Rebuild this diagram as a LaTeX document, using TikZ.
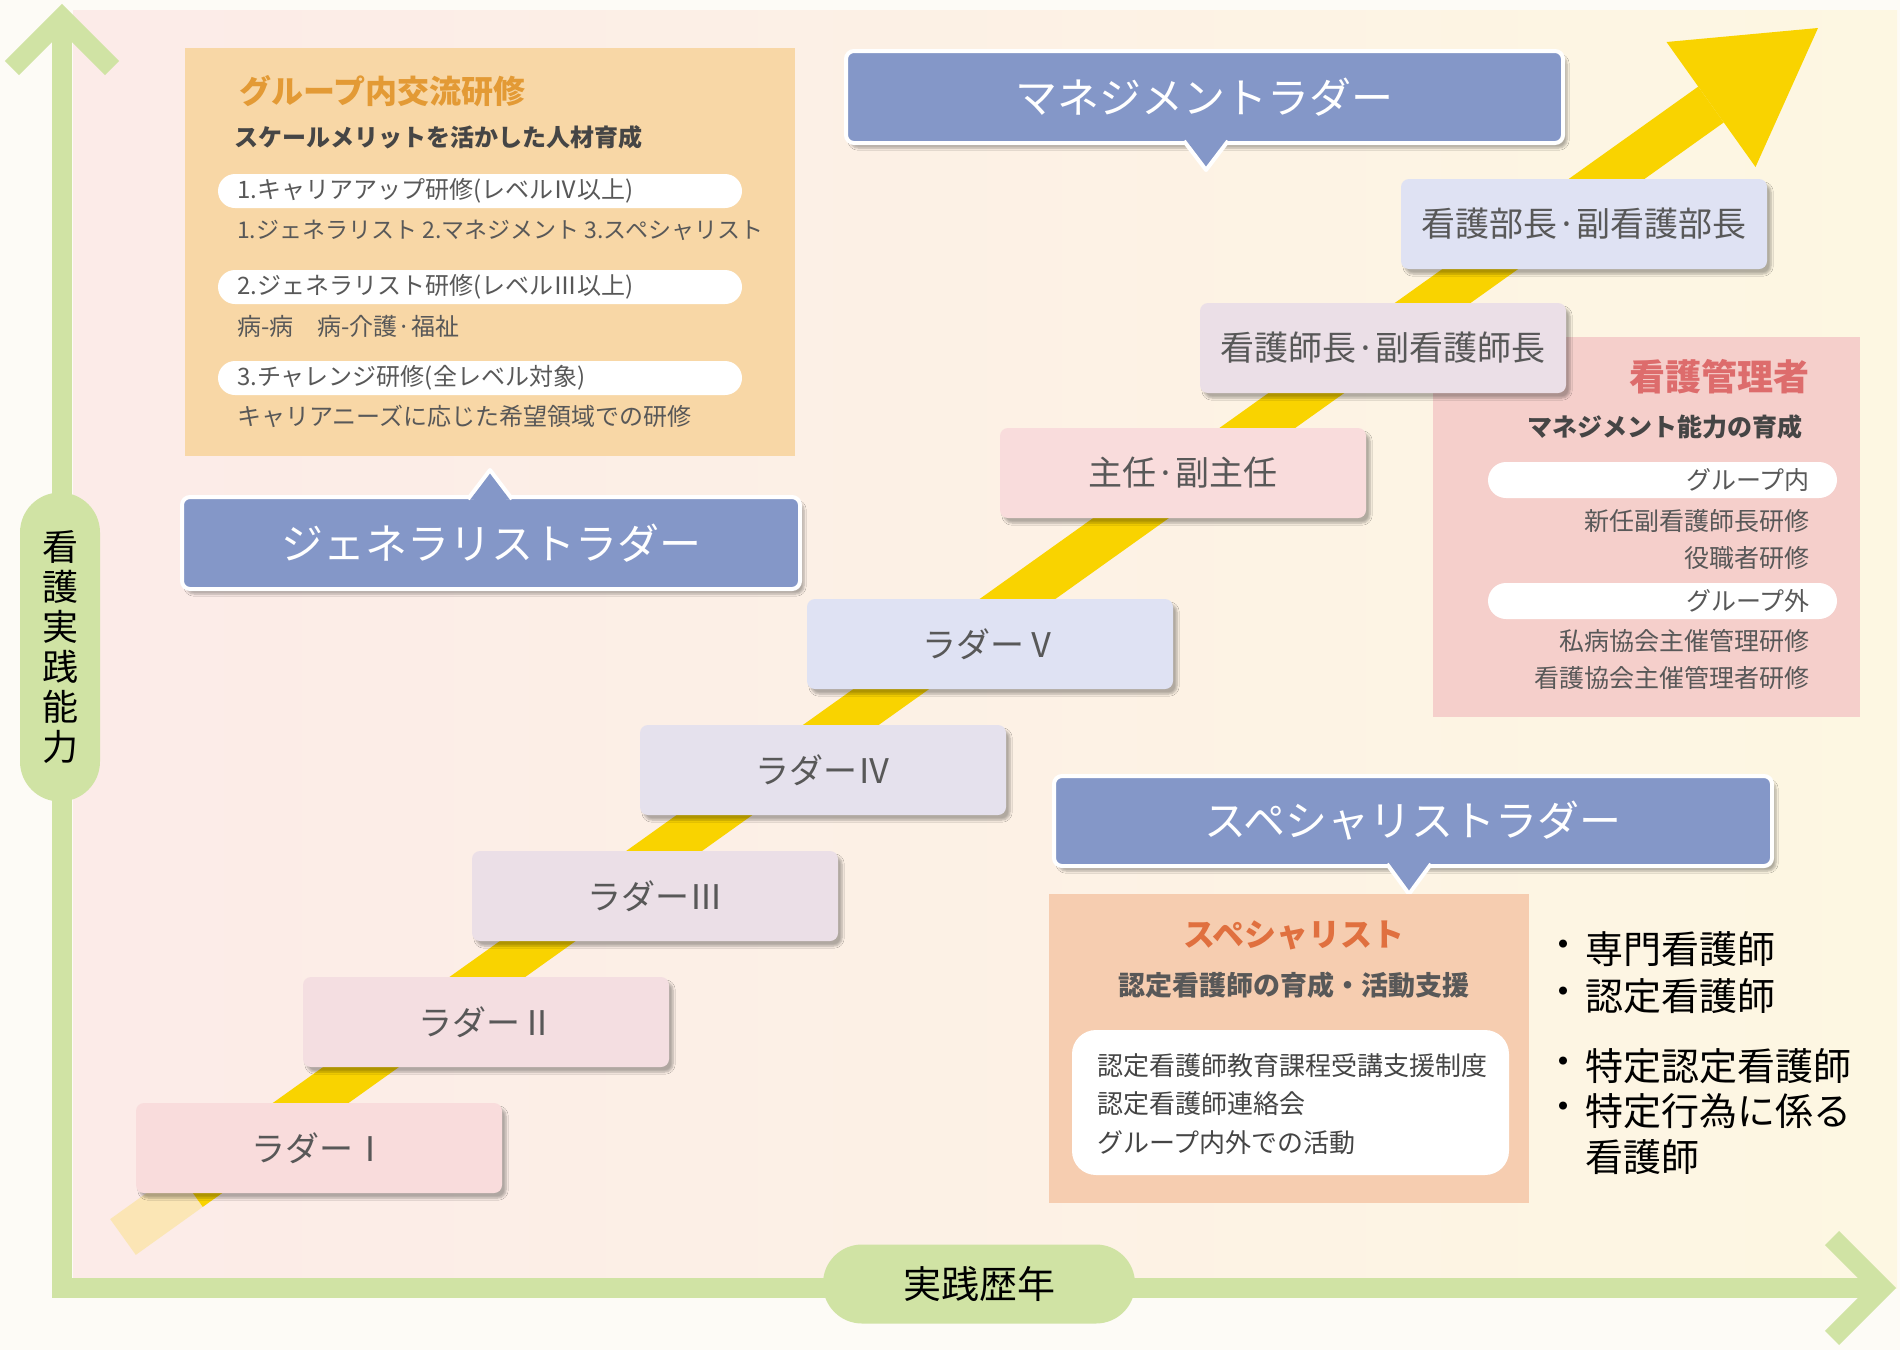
\documentclass[tikz,border=0pt]{standalone}
\usepackage{fontspec}
\setmainfont{Noto Sans CJK JP}
\usetikzlibrary{shadows.blur,calc}
\definecolor{outerbg}{HTML}{FDFBF6}
\definecolor{bgpink}{HTML}{FCEBE8}
\definecolor{bgcream}{HTML}{FDF7E2}
\definecolor{axisgreen}{HTML}{D0E3A4}
\definecolor{arrowyellow}{HTML}{F9D300}
\definecolor{orangebox}{HTML}{F8D7A6}
\definecolor{orangetitle}{HTML}{E39A35}
\definecolor{darktxt}{HTML}{454545}
\definecolor{graytxt}{HTML}{585858}
\definecolor{bannerblue}{HTML}{8497C8}
\definecolor{mgmtbox}{HTML}{F5CFCB}
\definecolor{redtitle}{HTML}{DD6C6C}
\definecolor{specbox}{HTML}{F6CDB0}
\definecolor{spectitle}{HTML}{E0703F}
\definecolor{lA}{HTML}{F9DCDC}
\definecolor{lB}{HTML}{F4DEE1}
\definecolor{lC}{HTML}{EBDFE7}
\definecolor{lD}{HTML}{E5E1ED}
\definecolor{lE}{HTML}{DFE2F3}
\begin{document}
\begin{tikzpicture}[x=1pt,y=-1pt,
  ladderbox/.style={rectangle, rounded corners=8pt, minimum width=366pt, minimum height=90pt, inner sep=0pt,
    text=graytxt, font=\fontsize{34}{40}\selectfont,
    blur shadow={shadow xshift=4pt, shadow yshift=-5pt, shadow blur steps=6, shadow opacity=30}},
  banner/.style={rectangle, rounded corners=8pt, draw=white, line width=4pt, fill=bannerblue, inner sep=0pt,
    text=white, font=\fontsize{42}{48}\selectfont,
    blur shadow={shadow xshift=4pt, shadow yshift=-5pt, shadow blur steps=6, shadow opacity=30}},
  tipline/.style={draw=white, line width=4pt, fill=bannerblue, line join=round},
  pill/.style={rectangle, rounded corners=17pt, fill=white, inner sep=0pt},
  txt/.style={inner sep=0pt, text=graytxt},
  axisline/.style={draw=axisgreen, line width=20pt, line join=miter},
  axispill/.style={fill=axisgreen, inner sep=0pt, text=black}
]
\useasboundingbox (0,0) rectangle (1900,1350);
% background
\fill[outerbg] (0,0) rectangle (1900,1350);
\shade[left color=bgpink, right color=bgcream] (73,10) rectangle (1897,1288);

% axes
\coordinate (ytip) at (62,18);
\coordinate (origin) at (62,1288);
\coordinate (xtip) at (1882,1288);
\draw[axisline] (ytip) -- (origin) -- (xtip);
\draw[axisline] (12,68) -- (ytip) -- (112,68);
\draw[axisline] (1832,1238) -- (xtip) -- (1832,1338);

% yellow arrow
\coordinate (amid) at (1711,104.5);
\coordinate (atail) at (123,1237);
\coordinate (ain) at (190,1189);
\coordinate (atip) at (1818,28);
\coordinate (abarbL) at (1666.5,42);
\coordinate (abarbR) at (1755.5,167);
\draw[arrowyellow, line width=44pt, opacity=0.22] (atail) -- (ain);
\draw[arrowyellow, line width=44pt] (ain) -- (amid);
\fill[arrowyellow] (abarbL) -- (atip) -- (abarbR) -- cycle;

% nursing management box (behind the ladder boxes)
\node[rectangle, fill=mgmtbox, minimum width=427pt, minimum height=380pt, inner sep=0pt] (mgrbox) at (1646.5,527) {};
\node[txt, anchor=east, text=redtitle, font=\fontsize{36}{40}\selectfont\bfseries] (mgrtitle) at (1810,377) {看護管理者};
\node[txt, anchor=east, text=darktxt, font=\fontsize{25}{30}\selectfont\bfseries] (mgrsub) at (1803,427) {マネジメント能力の育成};
\node[pill, minimum width=349pt, minimum height=36pt, rounded corners=18pt] (mp1) at (1662.5,480) {};
\node[txt, anchor=east, font=\fontsize{25}{30}\selectfont] (mp1t) at (1810,480) {グループ内};
\node[txt, anchor=east, font=\fontsize{25}{30}\selectfont] (mp1a) at (1810,521) {新任副看護師長研修};
\node[txt, anchor=east, font=\fontsize{25}{30}\selectfont] (mp1b) at (1810,558) {役職者研修};
\node[pill, minimum width=349pt, minimum height=36pt, rounded corners=18pt] (mp2) at (1662.5,601) {};
\node[txt, anchor=east, font=\fontsize{25}{30}\selectfont] (mp2t) at (1810,601) {グループ外};
\node[txt, anchor=east, font=\fontsize{25}{30}\selectfont] (mp2a) at (1810,641) {私病協会主催管理研修};
\node[txt, anchor=east, font=\fontsize{25}{30}\selectfont] (mp2b) at (1810,678) {看護協会主催管理者研修};

% ladder boxes
\node[ladderbox, fill=lA] (l1) at (319,1148) {ラダーⅠ};
\node[ladderbox, fill=lB] (l2) at (486,1022) {ラダーⅡ};
\node[ladderbox, fill=lC] (l3) at (655,896) {ラダーⅢ};
\node[ladderbox, fill=lD] (l4) at (823,770) {ラダーⅣ};
\node[ladderbox, fill=lE] (l5) at (990,644) {ラダーⅤ};
\node[ladderbox, fill=lA] (shunin) at (1183,473) {主任·副主任};
\node[ladderbox, fill=lC] (shicho) at (1383,348) {看護師長·副看護師長};
\node[ladderbox, fill=lE] (bucho) at (1584,224) {看護部長·副看護部長};

% group training box
\node[rectangle, fill=orangebox, minimum width=610pt, minimum height=408pt, inner sep=0pt] (grpbox) at (490,252) {};
\node[txt, anchor=west, text=orangetitle, font=\fontsize{32}{36}\selectfont\bfseries] (grptitle) at (239,91) {グループ内交流研修};
\node[txt, anchor=west, text=darktxt, font=\fontsize{24}{28}\selectfont\bfseries] (grpsub) at (234,137) {スケールメリットを活かした人材育成};
\node[pill, minimum width=524pt, minimum height=34pt] (gp1) at (480,191) {};
\node[txt, anchor=west, font=\fontsize{24}{28}\selectfont] (gp1t) at (237,191) {1.キャリアアップ研修(レベルⅣ以上)};
\node[txt, anchor=west, font=\fontsize{23}{28}\selectfont] (gp1d) at (237,230) {1.ジェネラリスト 2.マネジメント 3.スペシャリスト};
\node[pill, minimum width=524pt, minimum height=34pt] (gp2) at (480,287) {};
\node[txt, anchor=west, font=\fontsize{24}{28}\selectfont] (gp2t) at (237,287) {2.ジェネラリスト研修(レベルⅢ以上)};
\node[txt, anchor=west, font=\fontsize{24}{28}\selectfont] (gp2d) at (237,326) {病-病　病-介護·福祉};
\node[pill, minimum width=524pt, minimum height=34pt] (gp3) at (480,378) {};
\node[txt, anchor=west, font=\fontsize{24}{28}\selectfont] (gp3t) at (237,378) {3.チャレンジ研修(全レベル対象)};
\node[txt, anchor=west, font=\fontsize{24}{28}\selectfont] (gp3d) at (237,416) {キャリアニーズに応じた希望領域での研修};

% generalist banner
\node[banner, minimum width=618pt, minimum height=92pt] (genbanner) at (491,543) {ジェネラリストラダー};
\draw[tipline] (468,499) -- (490,470) -- (512,499);
\fill[bannerblue] (474,494) rectangle (506,502);

% management banner
\node[banner, minimum width=717pt, minimum height=92pt] (mgmtbanner) at (1204.5,97) {マネジメントラダー};
\draw[tipline] (1184,141) -- (1206,170) -- (1228,141);
\fill[bannerblue] (1190,138) rectangle (1222,146);

% specialist banner
\node[banner, minimum width=718pt, minimum height=90pt] (specbanner) at (1413,821) {スペシャリストラダー};
\draw[tipline] (1387,864) -- (1409,894) -- (1431,864);
\fill[bannerblue] (1393,861) rectangle (1425,869);

% specialist box
\node[rectangle, fill=specbox, minimum width=480pt, minimum height=309pt, inner sep=0pt] (specboxnode) at (1289,1048.5) {};
\node[txt, text=spectitle, font=\fontsize{32}{36}\selectfont\bfseries] (spectitlenode) at (1294,935) {スペシャリスト};
\node[txt, text=graytxt, font=\fontsize{27}{32}\selectfont\bfseries] (specsub) at (1294,985) {認定看護師の育成・活動支援};
\node[rectangle, rounded corners=24pt, fill=white, minimum width=437pt, minimum height=145pt, inner sep=0pt] (specwhite) at (1290.5,1102.5) {};
\node[txt, anchor=west, text=darktxt, font=\fontsize{26}{30}\selectfont] (sw1) at (1097,1066) {認定看護師教育課程受講支援制度};
\node[txt, anchor=west, text=darktxt, font=\fontsize{26}{30}\selectfont] (sw2) at (1097,1104) {認定看護師連絡会};
\node[txt, anchor=west, text=darktxt, font=\fontsize{26}{30}\selectfont] (sw3) at (1097,1143) {グループ内外での活動};

% right list
\node[txt, text=black, font=\fontsize{38}{44}\selectfont] (b1) at (1563,949) {・};
\node[txt, anchor=west, text=black, font=\fontsize{38}{44}\selectfont] (r1) at (1585,949) {専門看護師};
\node[txt, text=black, font=\fontsize{38}{44}\selectfont] (b2) at (1563,996) {・};
\node[txt, anchor=west, text=black, font=\fontsize{38}{44}\selectfont] (r2) at (1585,996) {認定看護師};
\node[txt, text=black, font=\fontsize{38}{44}\selectfont] (b3) at (1563,1066) {・};
\node[txt, anchor=west, text=black, font=\fontsize{38}{44}\selectfont] (r3) at (1585,1066) {特定認定看護師};
\node[txt, text=black, font=\fontsize{38}{44}\selectfont] (b4) at (1563,1111) {・};
\node[txt, anchor=west, text=black, font=\fontsize{38}{44}\selectfont] (r4) at (1585,1111) {特定行為に係る};
\node[txt, anchor=west, text=black, font=\fontsize{38}{44}\selectfont] (r5) at (1585,1157) {看護師};

% axis labels
\node[axispill, rounded corners=40pt, minimum width=80pt, minimum height=309pt, align=center,
  font=\fontsize{36}{40}\selectfont] (ylabel) at (60,647) {看\\護\\実\\践\\能\\力};
\node[axispill, rounded corners=39pt, minimum width=312pt, minimum height=79pt,
  font=\fontsize{38}{44}\selectfont] (xlabel) at (979,1284) {実践歴年};
\end{tikzpicture}
\end{document}
